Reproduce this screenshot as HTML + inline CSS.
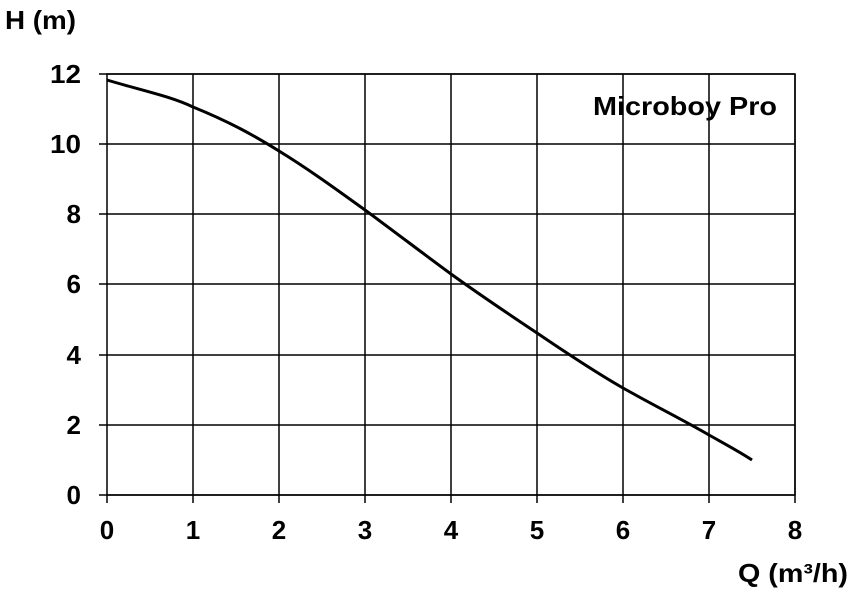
<!DOCTYPE html>
<html><head><style>body{margin:0;background:#fff}svg{display:block}text{font-family:"Liberation Sans",Arial,sans-serif;font-weight:bold;fill:#000}</style></head><body>
<svg width="853" height="593" viewBox="0 0 853 593">
<g stroke="#000" stroke-width="1.5" fill="none">
<rect x="107" y="74" width="688" height="421"/>
<path d="M193 74V503M279 74V503M365 74V503M451 74V503M537 74V503M623 74V503M709 74V503M795 74V503M107 495V503"/>
<path d="M99 74H795M99 144H795M99 214H795M99 284H795M99 355H795M99 425H795M99 495H795"/>
</g>
<path d="M107 80 C140 90,170 96,193 107 C230 122,255 136,279 151 C310 170,340 192,365 210 C395 232,425 255,451 274 C480 295,510 315,537 333 C565 352,595 372,623 388 C655 406,685 421,709 435 C725 444,740 452,752 460" stroke="#000" stroke-width="3" fill="none"/>
<g font-size="26">
<text x="50" y="83" textLength="31" lengthAdjust="spacingAndGlyphs">12</text><text x="50" y="153" textLength="31" lengthAdjust="spacingAndGlyphs">10</text>
</g>
<g text-anchor="end" font-size="26">
<text x="81" y="223">8</text><text x="81" y="293">6</text><text x="81" y="364">4</text><text x="81" y="434">2</text><text x="81" y="504">0</text>
</g>
<g text-anchor="middle" font-size="26">
<text x="107" y="539">0</text><text x="193" y="539">1</text><text x="279" y="539">2</text><text x="365" y="539">3</text><text x="451" y="539">4</text><text x="537" y="539">5</text><text x="623" y="539">6</text><text x="709" y="539">7</text><text x="795" y="539">8</text>
</g>
<text x="5" y="29" font-size="26" textLength="71" lengthAdjust="spacingAndGlyphs">H (m)</text>
<text x="738" y="582" font-size="26" textLength="110" lengthAdjust="spacingAndGlyphs">Q (m³/h)</text>
<text x="593" y="115" font-size="26" textLength="184" lengthAdjust="spacingAndGlyphs">Microboy Pro</text>
</svg>
</body></html>
